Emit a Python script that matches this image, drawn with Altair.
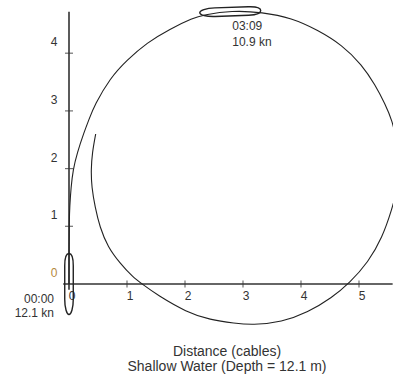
import altair as alt
import pandas as pd

# ---- data ----
path_x = [0.0, 0.0, 0.005, 0.012, 0.035, 0.07, 0.14, 0.26, 0.34, 0.44, 0.71, 1.00, 1.34, 1.74,
          2.14, 2.31, 2.81, 3.33, 3.84, 4.29, 4.71, 5.05, 5.28, 5.45, 5.57, 5.66, 5.70, 5.66,
          5.57, 5.40, 5.16, 4.84, 4.53, 4.12, 3.67, 3.16, 2.86, 2.43, 2.03, 1.52, 1.26, 1.10,
          0.88, 0.67, 0.53, 0.45, 0.39, 0.38, 0.40, 0.46]
path_y = [0.0, 0.50, 1.11, 1.33, 1.68, 1.98, 2.27, 2.63, 2.84, 3.10, 3.57, 3.88, 4.18, 4.42,
          4.61, 4.66, 4.74, 4.71, 4.61, 4.40, 4.14, 3.80, 3.45, 3.12, 2.84, 2.45, 2.08, 1.65,
          1.30, 0.80, 0.38, 0.02, -0.24, -0.49, -0.66, -0.71, -0.68, -0.62, -0.49, -0.19, 0.00, 0.12,
          0.36, 0.64, 0.99, 1.33, 1.68, 1.98, 2.27, 2.60]

x_ticks = [1, 2, 3, 4, 5]
y_ticks = [1, 2, 3, 4]
x_tick_labels = ["0", "1", "2", "3", "4", "5"]
y_tick_labels = ["0", "1", "2", "3", "4"]

ship_x = [0.0, 2.78]
ship_y = [0.0, 4.72]
ship_heading = [0, 88]
ship_time = ["00:00", "03:09"]
ship_speed = ["12.1 kn", "10.9 kn"]

title_lines = ["Distance (cables)", "Shallow Water (Depth = 12.1 m)"]

axis_x_extent = [-0.1, 5.58]
axis_y_extent = [-0.1, 4.72]

# ---- scales ----
xs = alt.Scale(domain=[-1.1897, 5.5862], nice=False, zero=False)
ys = alt.Scale(domain=[-1.5771, 4.9220], nice=False, zero=False)
FONT = "Liberation Sans"
INK = "#222222"
TXT = "#333333"

path_df = pd.DataFrame({"x": path_x, "y": path_y, "i": list(range(len(path_x)))})

xaxis_df = pd.DataFrame({"x": [axis_x_extent[0]], "x2": [axis_x_extent[1]], "y": [0.0]})
yaxis_df = pd.DataFrame({"x": [0.0], "y": [axis_y_extent[0]], "y2": [axis_y_extent[1]]})

xaxis = alt.Chart(xaxis_df).mark_rule(color=TXT, strokeWidth=1.4).encode(
    x=alt.X("x:Q", scale=xs, axis=None), x2="x2:Q", y=alt.Y("y:Q", scale=ys, axis=None))
yaxis = alt.Chart(yaxis_df).mark_rule(color=TXT, strokeWidth=1.6).encode(
    x=alt.X("x:Q", scale=xs, axis=None), y=alt.Y("y:Q", scale=ys, axis=None), y2="y2:Q")

xt_df = pd.DataFrame({"v": x_ticks, "z": [0.0] * len(x_ticks)})
yt_df = pd.DataFrame({"v": y_ticks, "z": [0.0] * len(y_ticks)})
xticks = alt.Chart(xt_df).mark_tick(orient="vertical", size=7, thickness=1.2, color=TXT).encode(
    x=alt.X("v:Q", scale=xs, axis=None), y=alt.Y("z:Q", scale=ys, axis=None))
yticks = alt.Chart(yt_df).mark_tick(orient="horizontal", size=8, thickness=1.2, color=TXT).encode(
    x=alt.X("z:Q", scale=xs, axis=None), y=alt.Y("v:Q", scale=ys, axis=None))

xl_df = pd.DataFrame({"v": [float(s) for s in x_tick_labels], "t": x_tick_labels,
                      "z": [0.0] * len(x_tick_labels)})
yl_df = pd.DataFrame({"v": [float(s) for s in y_tick_labels], "t": y_tick_labels,
                      "z": [0.0] * len(y_tick_labels)})
xlabels = alt.Chart(xl_df).mark_text(font=FONT, fontSize=12, color=TXT, dx=3, dy=12,
                                     align="center", baseline="middle").encode(
    x=alt.X("v:Q", scale=xs, axis=None), y=alt.Y("z:Q", scale=ys, axis=None), text="t:N")
ylabels = alt.Chart(yl_df).mark_text(font=FONT, fontSize=12, dx=-15, dy=-11,
                                     align="center", baseline="middle").encode(
    x=alt.X("z:Q", scale=xs, axis=None), y=alt.Y("v:Q", scale=ys, axis=None), text="t:N",
    color=alt.condition(alt.datum.t == "0", alt.value("#b5893c"), alt.value(TXT)))

path = alt.Chart(path_df).mark_line(interpolate="basis", strokeWidth=1.1, color=INK,
                                    clip=True).encode(
    x=alt.X("x:Q", scale=xs, axis=None), y=alt.Y("y:Q", scale=ys, axis=None), order="i:Q")

SHIP = ("M0,-1 C0.09,-1 0.14,-0.85 0.14,-0.6 L0.14,0.5 C0.14,0.8 0.07,1 0,1 "
        "C-0.07,1 -0.14,0.8 -0.14,0.5 L-0.14,-0.6 C-0.14,-0.85 -0.09,-1 0,-1 Z")
ship_df = pd.DataFrame({"x": ship_x, "y": ship_y, "h": ship_heading,
                        "lab": [a + "\n" + b for a, b in zip(ship_time, ship_speed)]})
ships = alt.Chart(ship_df).mark_point(shape=SHIP, size=3721, filled=False, strokeWidth=1.4,
                                      color=INK, opacity=1).encode(
    x=alt.X("x:Q", scale=xs, axis=None), y=alt.Y("y:Q", scale=ys, axis=None),
    angle=alt.Angle("h:Q", scale=None))

lab0 = alt.Chart(ship_df.iloc[[0]]).mark_text(font=FONT, fontSize=12, color=TXT, align="right",
                                              baseline="top", dx=-15, dy=10, lineBreak="\n",
                                              lineHeight=14).encode(
    x=alt.X("x:Q", scale=xs, axis=None), y=alt.Y("y:Q", scale=ys, axis=None), text="lab:N")
lab1 = alt.Chart(ship_df.iloc[[1]]).mark_text(font=FONT, fontSize=12, color=TXT, align="left",
                                              baseline="top", dx=2, dy=9, lineBreak="\n",
                                              lineHeight=16).encode(
    x=alt.X("x:Q", scale=xs, axis=None), y=alt.Y("y:Q", scale=ys, axis=None), text="lab:N")

title_df = pd.DataFrame({"t": ["\n".join(title_lines)]})
title = alt.Chart(title_df).mark_text(font=FONT, fontSize=14, color=TXT, align="center",
                                      baseline="top", lineBreak="\n", lineHeight=15).encode(
    x=alt.value(227), y=alt.value(345), text="t:N")

chart = alt.layer(xaxis, yaxis, xticks, yticks, xlabels, ylabels, path, ships, lab0, lab1,
                  title).properties(
    width=393, height=375, padding=0, autosize=alt.AutoSizeParams(type="none"),
    background="white"
).configure_view(stroke=None)

chart.save("out.html", embed_options={"renderer": "svg", "actions": False})
